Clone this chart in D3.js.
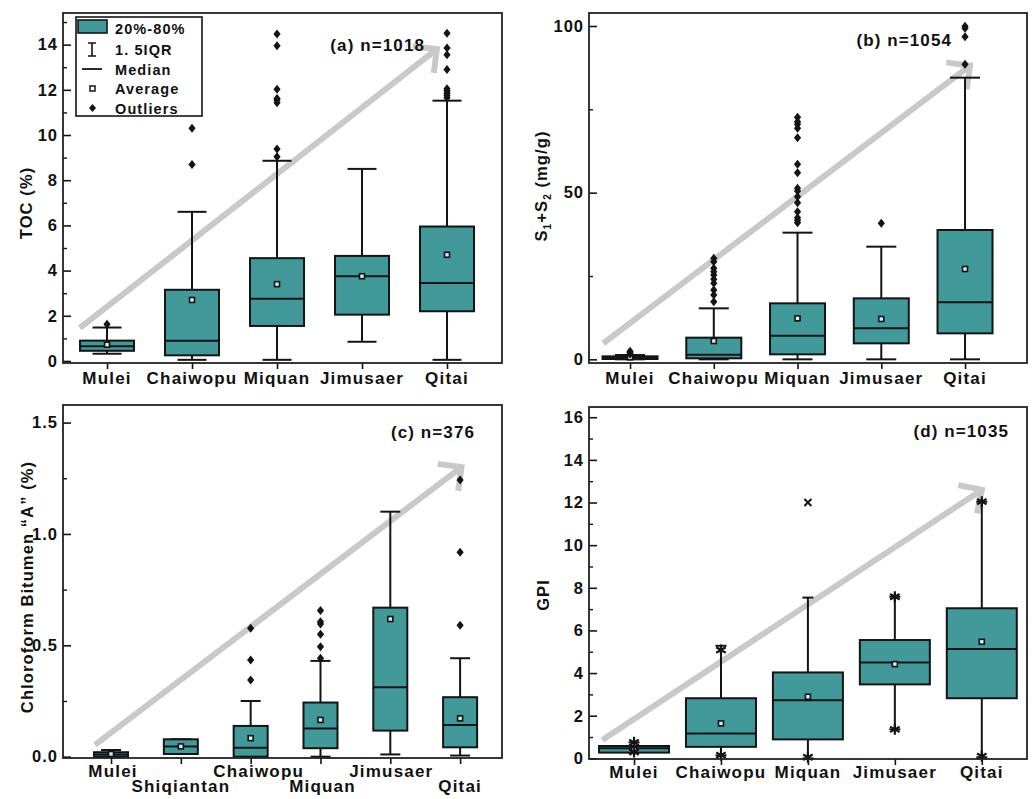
<!DOCTYPE html>
<html>
<head>
<meta charset="utf-8">
<script src="https://cdn.jsdelivr.net/npm/d3@7"></script>
<style>
  body { margin: 0; background: #fff; }
  svg { display: block; }
  text { font-family: "Liberation Sans", Arial, sans-serif; font-weight: bold; fill: #111; }
</style>
</head>
<body>
<svg id="chart" width="1035" height="799"></svg>
<script>
// ---------------- data ----------------
const regions5 = ["Mulei", "Chaiwopu", "Miquan", "Jimusaer", "Qitai"];
const regions6 = ["Mulei", "Shiqiantan", "Chaiwopu", "Miquan", "Jimusaer", "Qitai"];

// (a) TOC (%)
const tocBoxLow    = [0.45, 0.25, 1.55, 2.05, 2.2];
const tocBoxHigh   = [0.9, 3.15, 4.55, 4.65, 5.95];
const tocMedian    = [0.65, 0.9, 2.75, 3.75, 3.45];
const tocMean      = [0.72, 2.7, 3.4, 3.75, 4.7];
const tocWhiskLow  = [0.32, 0.05, 0.05, 0.85, 0.05];
const tocWhiskHigh = [1.48, 6.6, 8.86, 8.5, 11.52];
const tocOutliers  = [[1.62], [8.7, 10.3], [9.04, 9.38, 11.43, 11.55, 11.62, 12.02, 13.95, 14.47], [],
                      [11.65, 11.75, 11.85, 11.95, 12.05, 12.9, 13.55, 13.85, 14.5]];
const tocTicks = [0, 2, 4, 6, 8, 10, 12, 14];
const tocMinor = [1, 3, 5, 7, 9, 11, 13, 15];

// (b) S1+S2 (mg/g)
const s12BoxLow    = [0.1, 0.3, 1.5, 4.8, 7.8];
const s12BoxHigh   = [0.9, 6.5, 16.8, 18.3, 38.8];
const s12Median    = [0.4, 1.4, 7.1, 9.3, 17.1];
const s12Mean      = [0.6, 5.5, 12.3, 12.1, 27.1];
const s12WhiskLow  = [0, 0, 0, 0, 0];
const s12WhiskHigh = [1.3, 15.3, 38, 33.8, 84.5];
const s12Outliers  = [[1.6, 2.0, 2.4],
                      [17.3, 19.3, 20.8, 22.8, 24.0, 25.3, 26.3, 27.3, 29.3, 30.3],
                      [41, 41.7, 42.5, 44.3, 47, 48.8, 50.5, 51.3, 56, 58.5, 66.5, 69.3, 70.5, 71.3, 72.6],
                      [40.8],
                      [88.5, 96.8, 99.3, 99.9]];
const s12Ticks = [0, 50, 100];
const s12Minor = [25, 75];

// (c) Chloroform bitumen "A" (%)
const bitBoxLow    = [0.0, 0.012, 0.0, 0.038, 0.117, 0.042];
const bitBoxHigh   = [0.02, 0.078, 0.138, 0.243, 0.669, 0.267];
const bitMedian    = [0.01, 0.046, 0.04, 0.127, 0.312, 0.142];
const bitMean      = [0.012, 0.046, 0.083, 0.165, 0.618, 0.172];
const bitWhiskLow  = [0.0, 0.012, 0.0, 0.0, 0.01, 0.005];
const bitWhiskHigh = [0.03, 0.078, 0.25, 0.43, 1.1, 0.442];
const bitOutliers  = [[], [], [0.344, 0.434, 0.577], [0.442, 0.494, 0.55, 0.596, 0.606, 0.656], [],
                      [0.59, 0.918, 1.242]];
const bitTicks = [0, 0.5, 1.0, 1.5];
const bitMinor = [0.25, 0.75, 1.25];

// (d) GPI
const gpiBoxLow    = [0.27, 0.54, 0.89, 3.47, 2.82];
const gpiBoxHigh   = [0.58, 2.82, 4.03, 5.55, 7.04];
const gpiMedian    = [0.47, 1.17, 2.72, 4.5, 5.13];
const gpiMean      = [0.4, 1.64, 2.89, 4.42, 5.47];
const gpiWhiskLow  = [0.27, 0.14, 0.0, 1.36, 0.05];
const gpiWhiskHigh = [0.75, 5.28, 7.54, 7.58, 12.04];
const gpiStars     = [[0.3, 0.75], [0.15, 5.08], [0.05], [1.36, 7.58], [0.1, 12.04]];
const gpiCrosses   = [[], [], [12.0], [], []];
const gpiTicks = [0, 2, 4, 6, 8, 10, 12, 14, 16];
const gpiMinor = [1, 3, 5, 7, 9, 11, 13, 15];

// trend arrows: [category position, value] at tail and head
const tocArrow = [[-0.32, 1.46], [3.88, 13.8]];
const s12Arrow = [[-0.32, 4.8], [4.06, 88.1]];
const bitArrow = [[-0.23, 0.053], [5.02, 1.30]];
const gpiArrow = [[-0.365, 0.86], [4.0, 12.59]];

const legendLabels = ["20%-80%", "1. 5IQR", "Median", "Average", "Outliers"];

// ---------------- styles ----------------
const TEAL = "#42999a";
const INK = "#141414";
const ARROW = "#c9c9c9";

const svg = d3.select("#chart");

function zip(cats, low, high, med, mean, wl, wh, outl) {
  return cats.map((c, i) => ({ cat: c, i, low: low[i], high: high[i], med: med[i], mean: mean[i],
                               wl: wl[i], wh: wh[i], out: outl ? outl[i] : [] }));
}

function starPath(r) {
  let d = "";
  [90, 30, 150].forEach(a => {
    const t = a * Math.PI / 180, dx = r * Math.cos(t), dy = r * Math.sin(t);
    d += `M${-dx},${-dy}L${dx},${dy}`;
  });
  return d;
}

function drawPanel(cfg) {
  const g = svg.append("g");
  const x = d3.scaleLinear().domain(cfg.xDomain).range([cfg.left, cfg.right]);
  const y = d3.scaleLinear().domain(cfg.yDomain).range([cfg.bottom, cfg.top]);

  // trend arrow (behind the boxes)
  const [tail, head] = cfg.arrow;
  const ax0 = x(tail[0]), ay0 = y(tail[1]), ax1 = x(head[0]), ay1 = y(head[1]);
  const back = Math.atan2(ay0 - ay1, ax0 - ax1), spread = Math.PI / 4, L = 24;
  g.append("line").attr("x1", ax0).attr("y1", ay0).attr("x2", ax1).attr("y2", ay1)
    .attr("stroke", ARROW).attr("stroke-width", 6);
  g.append("path")
    .attr("d", `M${ax1 + L * Math.cos(back - spread)},${ay1 + L * Math.sin(back - spread)}` +
               `L${ax1},${ay1}L${ax1 + L * Math.cos(back + spread)},${ay1 + L * Math.sin(back + spread)}`)
    .attr("fill", "none").attr("stroke", ARROW).attr("stroke-width", 6).attr("stroke-linejoin", "miter");

  // boxes
  const bw = cfg.boxWidth, cw = cfg.capWidth;
  const box = g.selectAll("g.box").data(cfg.data).join("g").attr("class", "box")
    .attr("transform", d => `translate(${x(d.i)},0)`);
  box.append("line").attr("y1", d => y(d.wl)).attr("y2", d => y(d.wh))
    .attr("stroke", INK).attr("stroke-width", 2);
  box.append("line").attr("x1", -cw / 2).attr("x2", cw / 2).attr("y1", d => y(d.wh)).attr("y2", d => y(d.wh))
    .attr("stroke", INK).attr("stroke-width", 2);
  box.append("line").attr("x1", -cw / 2).attr("x2", cw / 2).attr("y1", d => y(d.wl)).attr("y2", d => y(d.wl))
    .attr("stroke", INK).attr("stroke-width", 2);
  box.append("rect").attr("x", -bw / 2).attr("width", bw)
    .attr("y", d => y(d.high)).attr("height", d => Math.max(0.5, y(d.low) - y(d.high)))
    .attr("fill", TEAL).attr("stroke", INK).attr("stroke-width", 2);
  box.append("line").attr("x1", -bw / 2).attr("x2", bw / 2).attr("y1", d => y(d.med)).attr("y2", d => y(d.med))
    .attr("stroke", INK).attr("stroke-width", 2);
  box.append("rect").attr("x", -2.5).attr("width", 5).attr("y", d => y(d.mean) - 2.5).attr("height", 5)
    .attr("fill", "#dfe9e9").attr("stroke", INK).attr("stroke-width", 1.6);
  box.selectAll("path.out").data(d => d.out).join("path").attr("class", "out")
    .attr("d", "M0,-4.5L3.6,0L0,4.5L-3.6,0Z").attr("fill", INK)
    .attr("transform", v => `translate(0,${y(v)})`);
  if (cfg.stars) {
    box.selectAll("path.star").data(d => cfg.stars[d.i]).join("path").attr("class", "star")
      .attr("d", starPath(5.5)).attr("stroke", INK).attr("stroke-width", 2.2).attr("fill", "none")
      .attr("transform", v => `translate(0,${y(v)})`);
  }
  if (cfg.crosses) {
    box.selectAll("path.cross").data(d => cfg.crosses[d.i]).join("path").attr("class", "cross")
      .attr("d", "M-3.5,-3.5L3.5,3.5M-3.5,3.5L3.5,-3.5").attr("stroke", INK).attr("stroke-width", 2)
      .attr("transform", v => `translate(0,${y(v)})`);
  }

  // y axis: major + minor ticks pointing into the plot
  const yAx = g.append("g").attr("transform", `translate(${cfg.left},0)`)
    .call(d3.axisLeft(y).tickValues(cfg.ticks).tickFormat(cfg.format)
      .tickSizeInner(-8).tickSizeOuter(0).tickPadding(5));
  yAx.select(".domain").remove();
  yAx.selectAll("line").attr("stroke", INK).attr("stroke-width", 1.6);
  yAx.selectAll("text").attr("font-size", 16.5).attr("letter-spacing", 1).attr("fill", INK)
    .style("font-family", '"Liberation Sans", Arial, sans-serif').style("font-weight", "bold");
  const yMin = g.append("g").attr("transform", `translate(${cfg.left},0)`)
    .call(d3.axisLeft(y).tickValues(cfg.minor).tickFormat("").tickSizeInner(-4).tickSizeOuter(0));
  yMin.select(".domain").remove();
  yMin.selectAll("line").attr("stroke", INK).attr("stroke-width", 1.4);

  // x axis: ticks below the frame, labels drawn per category
  const xAx = g.append("g").attr("transform", `translate(0,${cfg.bottom})`)
    .call(d3.axisBottom(x).tickValues(cfg.data.map(d => d.i)).tickFormat("").tickSizeInner(6).tickSizeOuter(0));
  xAx.select(".domain").remove();
  xAx.selectAll("line").attr("stroke", INK).attr("stroke-width", 1.6);
  g.selectAll("text.cat").data(cfg.data).join("text").attr("class", "cat")
    .attr("x", d => x(d.i) + (cfg.labelDx ? cfg.labelDx[d.i] : 0))
    .attr("y", d => cfg.labelY[d.i % cfg.labelY.length])
    .attr("text-anchor", "middle").attr("font-size", 17).attr("letter-spacing", 1.2)
    .text(d => d.cat);

  // frame
  g.append("rect").attr("x", cfg.left).attr("y", cfg.top)
    .attr("width", cfg.right - cfg.left).attr("height", cfg.bottom - cfg.top)
    .attr("fill", "none").attr("stroke", "#222").attr("stroke-width", 1.8);

  // y title
  const yt = g.append("text")
    .attr("transform", `translate(${cfg.yTitlePos[0]},${cfg.yTitlePos[1]}) rotate(-90)`)
    .attr("text-anchor", "middle").attr("font-size", 16.5).attr("letter-spacing", 1.1);
  cfg.yTitle(yt);

  // panel tag
  g.append("text").attr("x", cfg.tagPos[0]).attr("y", cfg.tagPos[1]).attr("text-anchor", "end")
    .attr("font-size", 17).attr("letter-spacing", 1.1).text(cfg.tag);

  return { g, x, y };
}

// (a)
const pa = drawPanel({
  data: zip(regions5, tocBoxLow, tocBoxHigh, tocMedian, tocMean, tocWhiskLow, tocWhiskHigh, tocOutliers),
  left: 63, right: 502, top: 13, bottom: 363,
  xDomain: [-0.518, 4.647], yDomain: [-0.09, 15.4],
  ticks: tocTicks, minor: tocMinor, format: d3.format("d"),
  boxWidth: 54, capWidth: 29, arrow: tocArrow,
  labelY: [384],
  yTitlePos: [32, 203], yTitle: t => t.text("TOC (%)"),
  tag: "(a) n=1018", tagPos: [425, 51]
});

// legend for the box elements
(function legend() {
  const lg = pa.g.append("g");
  lg.append("rect").attr("x", 76).attr("y", 17).attr("width", 126).attr("height", 99)
    .attr("fill", "#fff").attr("stroke", INK).attr("stroke-width", 1.6);
  lg.append("rect").attr("x", 78).attr("y", 20).attr("width", 29).attr("height", 13)
    .attr("fill", TEAL).attr("stroke", INK).attr("stroke-width", 1.6);
  lg.append("path").attr("d", "M92,43V56M88,43H96M88,56H96").attr("stroke", INK).attr("stroke-width", 1.6);
  lg.append("line").attr("x1", 82).attr("x2", 102).attr("y1", 69).attr("y2", 69)
    .attr("stroke", INK).attr("stroke-width", 1.8);
  lg.append("rect").attr("x", 90).attr("y", 86).attr("width", 5).attr("height", 5)
    .attr("fill", "#fff").attr("stroke", INK).attr("stroke-width", 1.5);
  lg.append("path").attr("d", "M92.5,104L96,108L92.5,112L89,108Z").attr("fill", INK);
  const baselines = [34, 55, 75, 94, 114];
  lg.selectAll("text").data(legendLabels).join("text")
    .attr("x", 115).attr("y", (d, i) => baselines[i])
    .attr("font-size", 14.5).attr("letter-spacing", 1.1).text(d => d);
})();

// (b)
drawPanel({
  data: zip(regions5, s12BoxLow, s12BoxHigh, s12Median, s12Mean, s12WhiskLow, s12WhiskHigh, s12Outliers),
  left: 589, right: 1027, top: 13, bottom: 363,
  xDomain: [-0.49, 4.74], yDomain: [-1.1, 103.9],
  ticks: s12Ticks, minor: s12Minor, format: d3.format("d"),
  boxWidth: 55, capWidth: 30, arrow: s12Arrow,
  labelY: [384],
  yTitlePos: [547, 186],
  yTitle: t => {
    t.append("tspan").text("S");
    t.append("tspan").attr("dy", 4).attr("font-size", 10).text("1");
    t.append("tspan").attr("dy", -4).text("+S");
    t.append("tspan").attr("dy", 4).attr("font-size", 10).text("2");
    t.append("tspan").attr("dy", -4).text(" (mg/g)");
  },
  tag: "(b) n=1054", tagPos: [952, 46]
});

// (c)
drawPanel({
  data: zip(regions6, bitBoxLow, bitBoxHigh, bitMedian, bitMean, bitWhiskLow, bitWhiskHigh, bitOutliers),
  left: 63, right: 502, top: 405, bottom: 758,
  xDomain: [-0.688, 5.6], yDomain: [-0.006, 1.579],
  ticks: bitTicks, minor: bitMinor, format: d3.format(".1f"),
  boxWidth: 34, capWidth: 20, arrow: bitArrow,
  labelY: [777, 792], labelDx: [2, 0, 8, 2, 1, 0],
  yTitlePos: [33, 587], yTitle: t => t.text("Chloroform Bitumen \u201CA\u201D (%)"),
  tag: "(c) n=376", tagPos: [475, 438]
});

// (d)
drawPanel({
  data: zip(regions5, gpiBoxLow, gpiBoxHigh, gpiMedian, gpiMean, gpiWhiskLow, gpiWhiskHigh, null),
  left: 589, right: 1027, top: 407, bottom: 759,
  xDomain: [-0.518, 4.52], yDomain: [-0.03, 16.48],
  ticks: gpiTicks, minor: gpiMinor, format: d3.format("d"),
  boxWidth: 70, capWidth: 11, arrow: gpiArrow,
  stars: gpiStars, crosses: gpiCrosses,
  labelY: [778],
  yTitlePos: [549, 595], yTitle: t => t.text("GPI"),
  tag: "(d) n=1035", tagPos: [1009, 437]
});
</script>
</body>
</html>
